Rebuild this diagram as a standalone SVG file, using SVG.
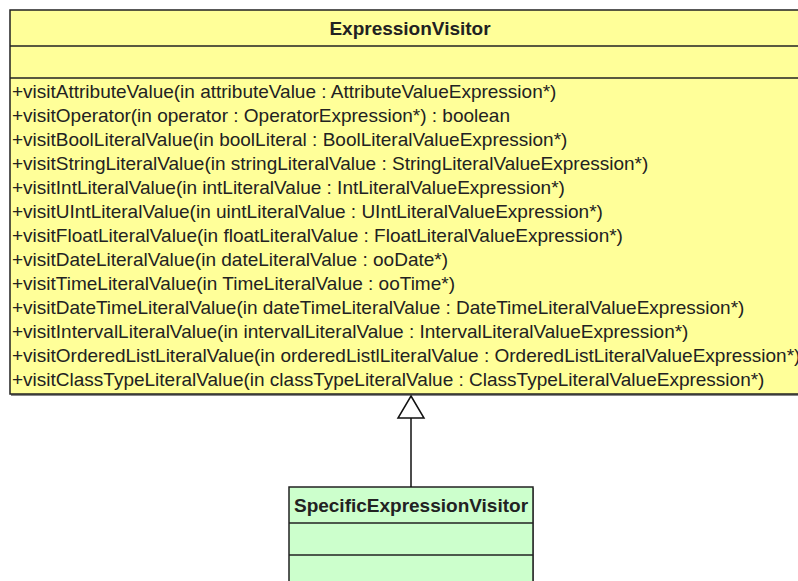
<svg xmlns="http://www.w3.org/2000/svg" width="798" height="581" viewBox="0 0 798 581">
<style>
.box{stroke:#222;stroke-width:1.5}
.sep{stroke:#222;stroke-width:1.5}
.title{font-family:"Liberation Sans",Arial,sans-serif;font-weight:bold;font-size:19px;fill:#222;text-anchor:middle}
.op{font-family:"Liberation Sans",Arial,sans-serif;font-size:19px;fill:#222}
.conn{stroke:#111;stroke-width:1.5;fill:none}
.arrow{fill:#fff;stroke:#111;stroke-width:1.5}
</style>
<rect width="798" height="581" fill="#fff"/>
<g id="ExpressionVisitor">
<rect x="11" y="11" width="800" height="385" fill="#888" />
<rect x="10" y="10" width="800" height="384" fill="#ffff99" class="box"/>
<line x1="10" y1="46" x2="810" y2="46" class="sep"/>
<line x1="10" y1="78" x2="810" y2="78" class="sep"/>
<text x="410" y="35" class="title">ExpressionVisitor</text>
<text class="op" x="12" y="98">+visitAttributeValue(in attributeValue : AttributeValueExpression*)</text>
<text class="op" x="12" y="122">+visitOperator(in operator : OperatorExpression*) : boolean</text>
<text class="op" x="12" y="146">+visitBoolLiteralValue(in boolLiteral : BoolLiteralValueExpression*)</text>
<text class="op" x="12" y="170">+visitStringLiteralValue(in stringLiteralValue : StringLiteralValueExpression*)</text>
<text class="op" x="12" y="194">+visitIntLiteralValue(in intLiteralValue : IntLiteralValueExpression*)</text>
<text class="op" x="12" y="218">+visitUIntLiteralValue(in uintLiteralValue : UIntLiteralValueExpression*)</text>
<text class="op" x="12" y="242">+visitFloatLiteralValue(in floatLiteralValue : FloatLiteralValueExpression*)</text>
<text class="op" x="12" y="266">+visitDateLiteralValue(in dateLiteralValue : ooDate*)</text>
<text class="op" x="12" y="290">+visitTimeLiteralValue(in TimeLiteralValue : ooTime*)</text>
<text class="op" x="12" y="314">+visitDateTimeLiteralValue(in dateTimeLiteralValue : DateTimeLiteralValueExpression*)</text>
<text class="op" x="12" y="338">+visitIntervalLiteralValue(in intervalLiteralValue : IntervalLiteralValueExpression*)</text>
<text class="op" x="12" y="362">+visitOrderedListLiteralValue(in orderedListlLiteralValue : OrderedListLiteralValueExpression*)</text>
<text class="op" x="12" y="386">+visitClassTypeLiteralValue(in classTypeLiteralValue : ClassTypeLiteralValueExpression*)</text>
</g>
<g id="SpecificExpressionVisitor">
<rect x="290" y="488" width="244" height="110" fill="#888"/>
<rect x="289" y="487" width="244" height="110" fill="#ccffcc" class="box"/>
<line x1="289" y1="523" x2="533" y2="523" class="sep"/>
<line x1="289" y1="555" x2="533" y2="555" class="sep"/>
<text x="411" y="512" class="title">SpecificExpressionVisitor</text>
</g>
<g id="connectors">
<line x1="411" y1="487" x2="411" y2="418" class="conn"/>
<polygon points="411,396 424,418 398,418" class="arrow"/>
</g>
</svg>
